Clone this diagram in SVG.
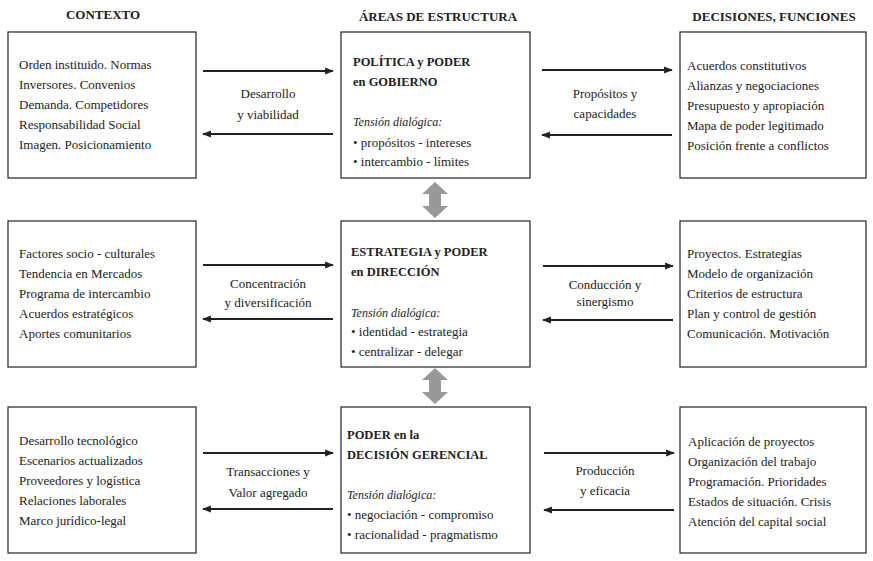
<svg xmlns="http://www.w3.org/2000/svg" width="873" height="561" viewBox="0 0 873 561">
<defs>
<style>
.b{fill:#fff;stroke:#222;stroke-width:1.2}
text{font-family:"Liberation Serif",serif;font-size:13px;fill:#222}
.h{font-weight:bold;font-size:13px}
.t{font-weight:bold;font-size:12.5px}
.i{font-style:italic;font-size:12px}
.c{text-anchor:middle}
.a{stroke:#222;stroke-width:2.2;fill:none}
</style>
<marker id="m" viewBox="0 0 10 10" refX="9" refY="5" markerWidth="4" markerHeight="4" orient="auto-start-reverse"><path d="M0,1 L10,5 L0,9 z" fill="#222"/></marker>
<path id="dbl" d="M0,-18 L-13,-6 L-6,-6 L-6,6 L-13,6 L0,18 L13,6 L6,6 L6,-6 L13,-6 z" fill="#999"/>
</defs>
<rect width="873" height="561" fill="#fff"/>
<text class="h c" x="103" y="19">CONTEXTO</text>
<text class="h c" x="438" y="21">ÁREAS DE ESTRUCTURA</text>
<text class="h c" x="774" y="21">DECISIONES, FUNCIONES</text>

<g id="ctx1"><rect class="b" x="8" y="32" width="188" height="146"/>
<text x="19" y="69">Orden instituido. Normas</text><text x="19" y="89">Inversores. Convenios</text><text x="19" y="109">Demanda. Competidores</text><text x="19" y="129">Responsabilidad Social</text><text x="19" y="149">Imagen. Posicionamiento</text></g>
<g id="ctx2"><rect class="b" x="8" y="221" width="188" height="146"/>
<text x="19" y="258">Factores socio - culturales</text><text x="19" y="278">Tendencia en Mercados</text><text x="19" y="298">Programa de intercambio</text><text x="19" y="318">Acuerdos estratégicos</text><text x="19" y="338">Aportes comunitarios</text></g>
<g id="ctx3"><rect class="b" x="8" y="407" width="188" height="146"/>
<text x="19" y="445">Desarrollo tecnológico</text><text x="19" y="465">Escenarios actualizados</text><text x="19" y="485">Proveedores y logística</text><text x="19" y="505">Relaciones laborales</text><text x="19" y="525">Marco jurídico-legal</text></g>

<g id="area1"><rect class="b" x="341" y="32" width="189" height="146"/>
<text class="t" x="353" y="66">POLÍTICA y PODER</text><text class="t" x="353" y="86">en GOBIERNO</text>
<text class="i" x="353" y="126">Tensión dialógica:</text><text x="353" y="147">• propósitos - intereses</text><text x="353" y="166">• intercambio - límites</text></g>
<g id="area2"><rect class="b" x="341" y="221" width="189" height="146"/>
<text class="t" x="351" y="256">ESTRATEGIA y PODER</text><text class="t" x="351" y="276">en DIRECCIÓN</text>
<text class="i" x="351" y="317">Tensión dialógica:</text><text x="351" y="336">• identidad - estrategia</text><text x="351" y="356">• centralizar - delegar</text></g>
<g id="area3"><rect class="b" x="341" y="407" width="189" height="146"/>
<text class="t" x="347" y="439">PODER en la</text><text class="t" x="347" y="459">DECISIÓN GERENCIAL</text>
<text class="i" x="347" y="499">Tensión dialógica:</text><text x="347" y="519">• negociación - compromiso</text><text x="347" y="539">• racionalidad - pragmatismo</text></g>

<g id="dec1"><rect class="b" x="680" y="32" width="186" height="146"/>
<text x="687" y="70">Acuerdos constitutivos</text><text x="687" y="90">Alianzas y negociaciones</text><text x="687" y="110">Presupuesto y apropiación</text><text x="687" y="130">Mapa de poder legitimado</text><text x="687" y="150">Posición frente a conflictos</text></g>
<g id="dec2"><rect class="b" x="680" y="221" width="186" height="146"/>
<text x="687" y="258">Proyectos. Estrategias</text><text x="687" y="278">Modelo de organización</text><text x="687" y="298">Criterios de estructura</text><text x="687" y="318">Plan y control de gestión</text><text x="687" y="338">Comunicación. Motivación</text></g>
<g id="dec3"><rect class="b" x="680" y="407" width="186" height="146"/>
<text x="688" y="446">Aplicación de proyectos</text><text x="688" y="466">Organización del trabajo</text><text x="688" y="486">Programación. Prioridades</text><text x="688" y="506">Estados de situación. Crisis</text><text x="688" y="526">Atención del capital social</text></g>

<g id="connectors">
<line class="a" x1="203" y1="71" x2="333" y2="71" marker-end="url(#m)"/>
<line class="a" x1="333" y1="134" x2="203" y2="134" marker-end="url(#m)"/>
<line class="a" x1="542" y1="70" x2="672" y2="70" marker-end="url(#m)"/>
<line class="a" x1="672" y1="135" x2="542" y2="135" marker-end="url(#m)"/>
<line class="a" x1="203" y1="265" x2="333" y2="265" marker-end="url(#m)"/>
<line class="a" x1="333" y1="319" x2="203" y2="319" marker-end="url(#m)"/>
<line class="a" x1="543" y1="266" x2="673" y2="266" marker-end="url(#m)"/>
<line class="a" x1="673" y1="320" x2="543" y2="320" marker-end="url(#m)"/>
<line class="a" x1="203" y1="453" x2="333" y2="453" marker-end="url(#m)"/>
<line class="a" x1="333" y1="509" x2="203" y2="509" marker-end="url(#m)"/>
<line class="a" x1="544" y1="453" x2="674" y2="453" marker-end="url(#m)"/>
<line class="a" x1="674" y1="510" x2="544" y2="510" marker-end="url(#m)"/>
<use href="#dbl" x="435" y="200"/>
<use href="#dbl" x="435" y="386"/>
<text class="c" x="268" y="98">Desarrollo</text><text class="c" x="268" y="119">y viabilidad</text>
<text class="c" x="605" y="98">Propósitos y</text><text class="c" x="605" y="118">capacidades</text>
<text class="c" x="268" y="288">Concentración</text><text class="c" x="268" y="307">y diversificación</text>
<text class="c" x="605" y="289">Conducción y</text><text class="c" x="605" y="306">sinergismo</text>
<text class="c" x="268" y="476">Transacciones y</text><text class="c" x="268" y="497">Valor agregado</text>
<text class="c" x="605" y="475">Producción</text><text class="c" x="605" y="495">y eficacia</text>
</g>
</svg>
